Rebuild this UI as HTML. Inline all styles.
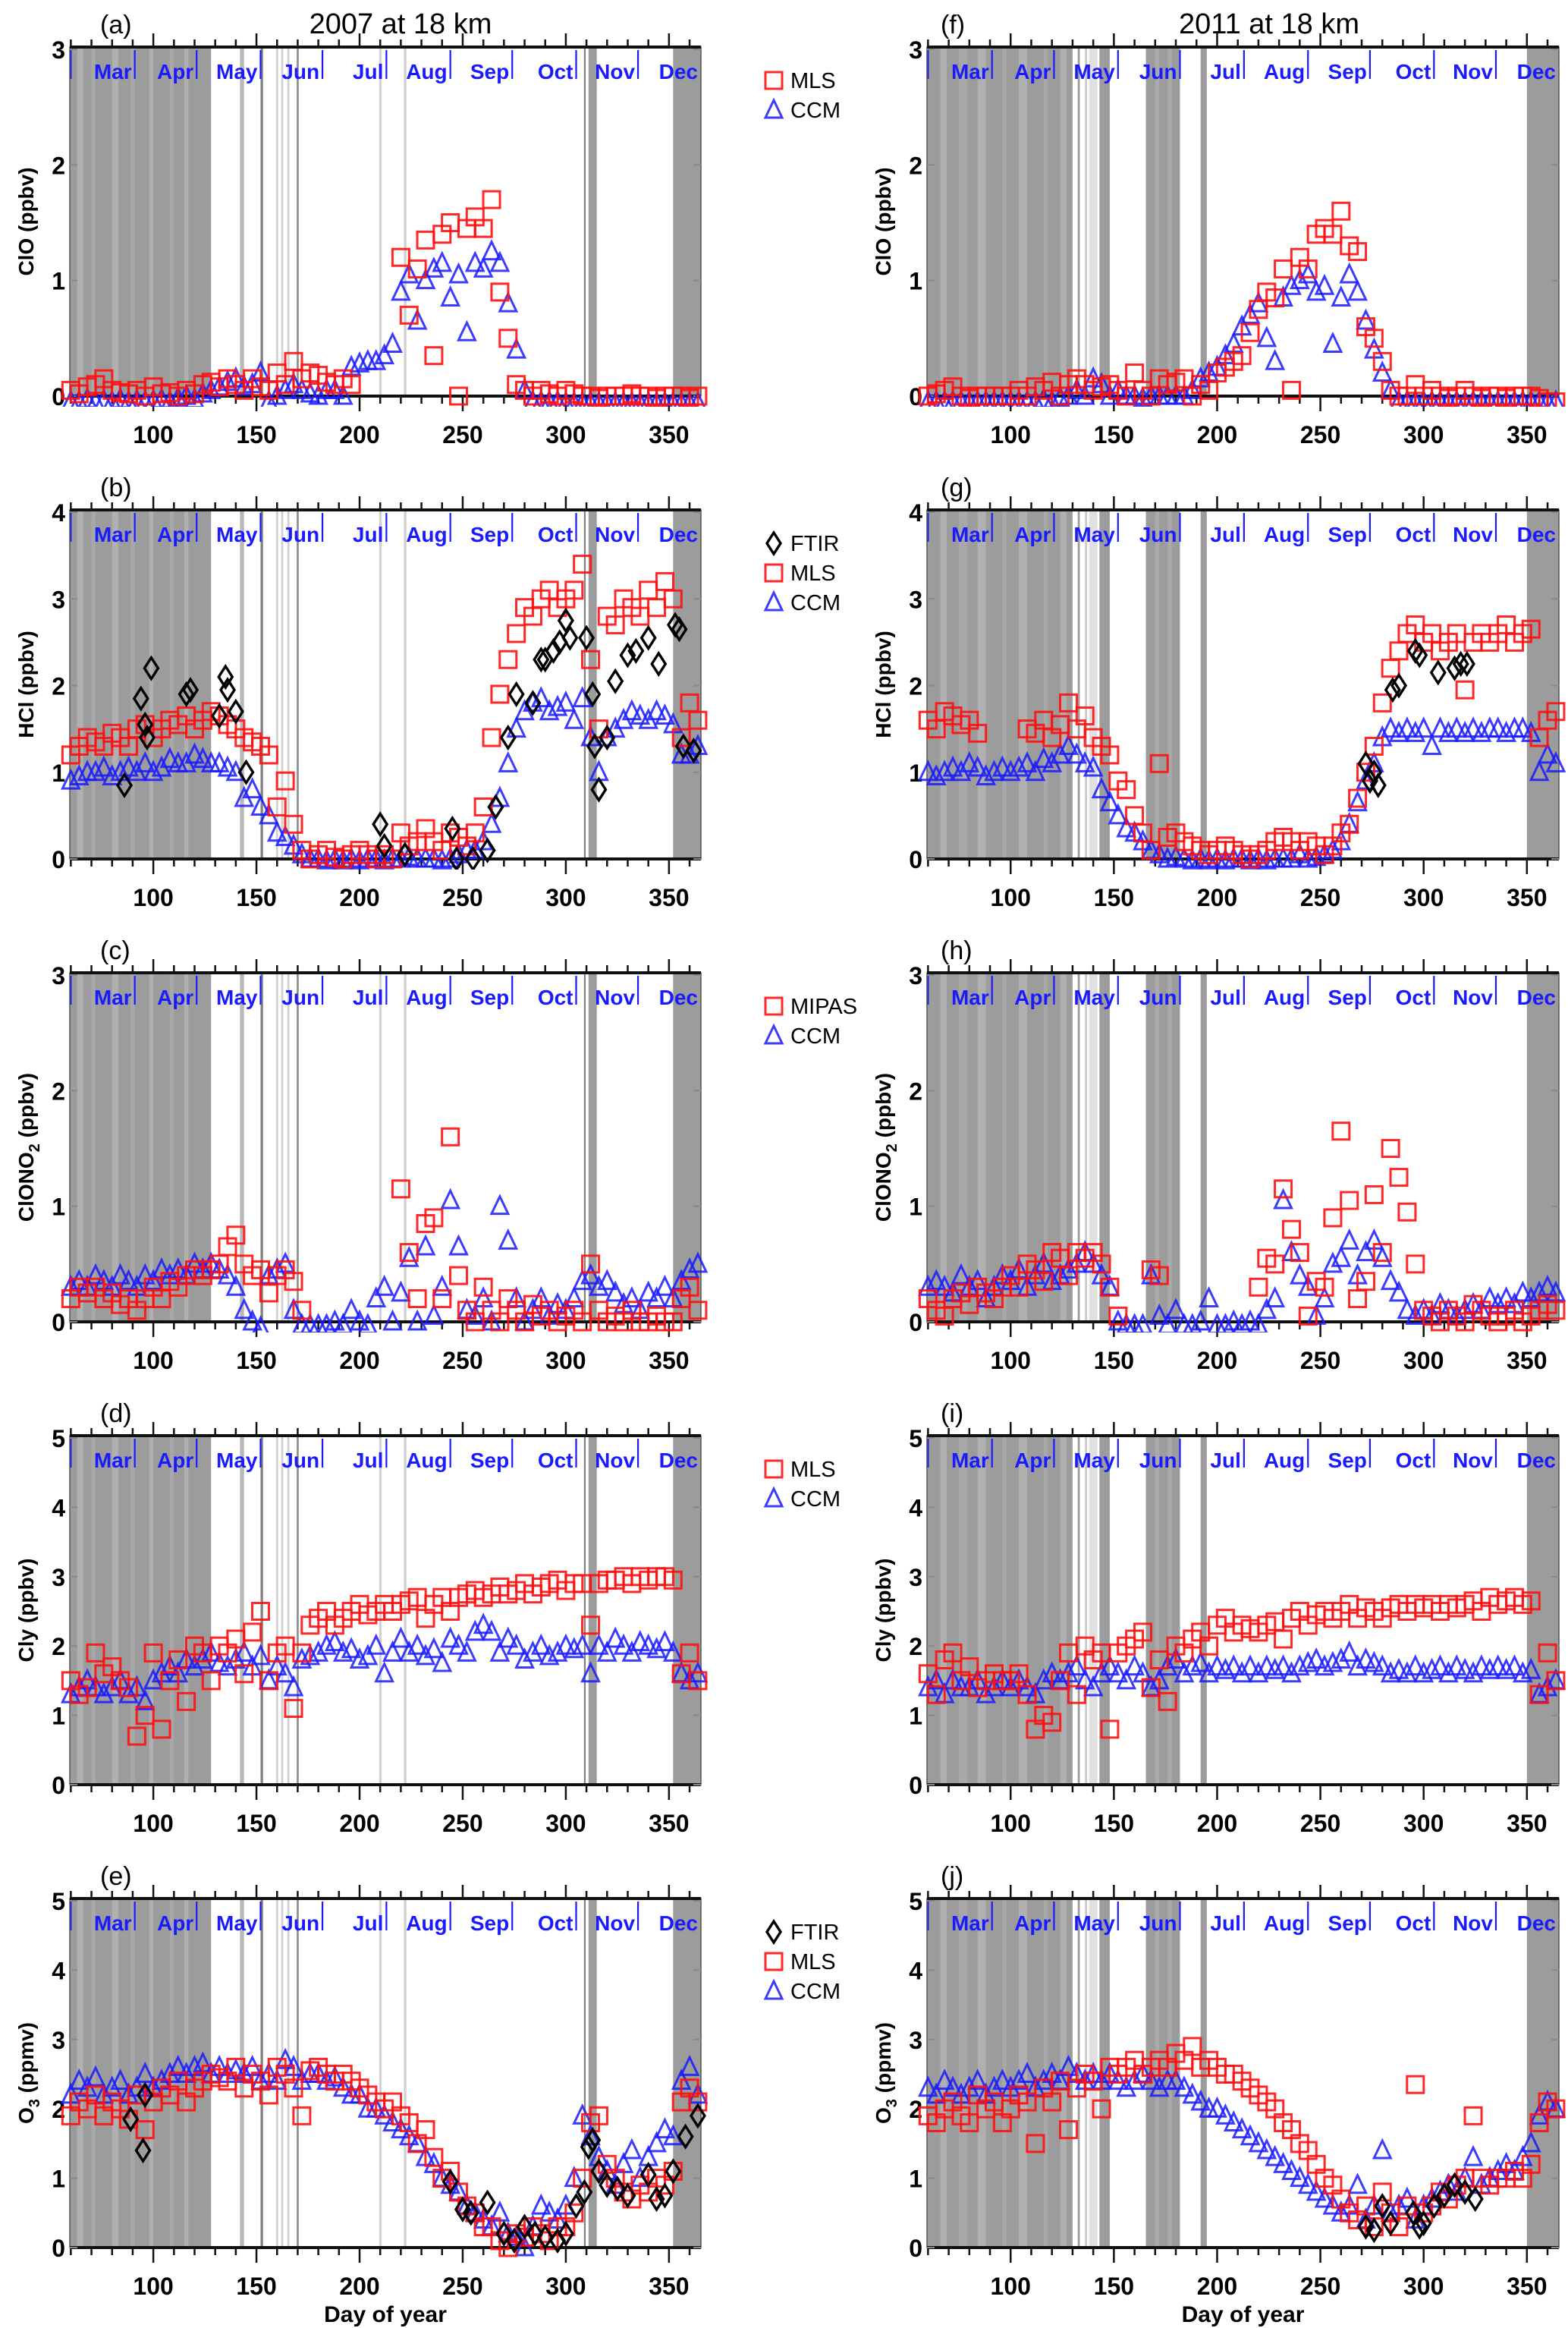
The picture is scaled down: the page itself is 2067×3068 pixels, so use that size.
<!DOCTYPE html>
<html><head><meta charset="utf-8"><title>Chlorine species and ozone at 18 km, 2007 and 2011</title>
<style>
html,body{margin:0;padding:0;background:#fff;}
svg{display:block;font-family:"Liberation Sans",sans-serif;}
</style></head>
<body>
<svg id="fig" width="2067" height="3068" viewBox="0 0 2067 3068" xmlns="http://www.w3.org/2000/svg"></svg>
<script>
// ---- shared sampling days (every 4 days) ----
const days = [60,64,68,72,76,80,84,88,92,96,100,104,108,112,116,120,124,128,132,136,140,144,148,152,156,160,164,168,172,176,180,184,188,192,196,200,204,208,212,216,220,224,228,232,236,240,244,248,252,256,260,264,268,272,276,280,284,288,292,296,300,304,308,312,316,320,324,328,332,336,340,344,348,352,356,360,364];
const N = null;
// (a) 2007 ClO
const a_mls = [0.05,0.02,0.08,0.1,0.15,0.05,0.03,0.02,0.05,0.0, 0.08,0.02,0.03,0.0,0.05,0.02,0.1,0.12,0.08,0.15, 0.1,0.05,0.15,0.08,0.05,0.2,0.1,0.3,0.15,0.2, 0.18,0.12,0.1,0.15,0.1,N,N,N,N,N, 1.2,0.7,1.1,1.35,0.35,1.4,1.5,0.0,1.45,1.55, 1.45,1.7,0.9,0.5,0.1,0.05,0.0,0.05,0.02,0.0, 0.05,0.02,0.0,0.0,-0.02,0.0,0.0,0.0,0.02,0.0, 0.0,-0.02,0.0,0.0,0.0,-0.02,0.0];
const a_ccm = [-0.05,-0.05,-0.03,-0.05,-0.04,-0.05,-0.03,-0.05,-0.04,-0.05, -0.04,-0.03,-0.05,-0.02,0.0,-0.03,0.02,0.05,0.08,0.12, 0.15,0.08,0.1,0.2,-0.05,0.0,0.05,0.1,0.05,0.02, 0.0,0.05,0.05,0.0,0.25,0.28,0.3,0.3,0.35,0.45, 0.9,1.05,0.65,1.0,1.1,1.15,0.85,1.05,0.55,1.15, 1.1,1.25,1.15,0.8,0.4,0.05,-0.05,-0.05,-0.05,-0.05, -0.06,-0.06,-0.06,-0.06,-0.06,-0.06,-0.06,-0.06,-0.06,-0.06, -0.06,-0.06,-0.06,-0.06,-0.06,-0.06,-0.06];
// (b) 2007 HCl
const b_mls = [1.2,1.3,1.4,1.35,1.3,1.45,1.4,1.3,1.5,1.55, 1.4,1.5,1.6,1.55,1.65,1.5,1.6,1.7,1.65,1.55, 1.5,1.4,1.35,1.3,1.2,0.6,0.9,0.4,0.1,0.0, 0.05,0.1,0.02,0.0,0.05,0.1,0.05,0.0,0.05,0.0, 0.3,0.15,0.2,0.35,0.2,0.1,0.3,0.25,0.15,0.3, 0.6,1.4,1.9,2.3,2.6,2.9,2.8,3.0,3.1,2.9, 3.0,3.1,3.4,2.3,1.5,2.8,2.7,3.0,2.9,2.8, 3.1,2.9,3.2,3.0,1.4,1.8,1.6];
const b_ccm = [0.9,0.95,1.0,1.0,1.05,0.95,1.0,1.05,1.0,1.1, 1.0,1.05,1.15,1.1,1.1,1.2,1.15,1.1,1.1,1.05, 1.0,0.7,0.8,0.6,0.5,0.3,0.25,0.15,0.05,0.0, 0.0,-0.02,0.0,-0.02,0.0,-0.02,0.0,0.0,-0.02,0.0, 0.0,0.02,0.0,0.0,0.0,-0.02,0.0,0.05,0.1,0.1, 0.2,0.4,0.7,1.1,1.5,1.7,1.8,1.85,1.7,1.75, 1.8,1.6,1.85,1.4,1.0,1.4,1.5,1.6,1.7,1.65, 1.6,1.7,1.65,1.55,1.2,1.2,1.3];
const b_ftir_days = [86,94,96,97,99,116,118,132,135,136,140,145,210,212,222,245,247,255,262,266,272,276,284,288,290,294,297,300,302,310,313,314,316,320,324,330,334,340,345,353,355,357,362];
const b_ftir = [0.85,1.85,1.55,1.4,2.2,1.9,1.95,1.65,2.1,1.95,1.7,1.0,0.4,0.15,0.05,0.35,0.0,0.0,0.1,0.6,1.4,1.9,1.8,2.3,2.3,2.4,2.5,2.75,2.55,2.55,1.9,1.3,0.8,1.4,2.05,2.35,2.4,2.55,2.25,2.7,2.65,1.3,1.25];
// (c) 2007 ClONO2
const c_mipas = [0.2,0.3,0.25,0.3,0.2,0.25,0.15,0.2,0.1,0.2, 0.3,0.2,0.35,0.3,0.4,0.45,0.4,0.45,0.5,0.65, 0.75,0.5,0.4,0.45,0.25,0.4,0.45,0.35,0.1,N, N,N,N,N,N,N,N,N,N,N, 1.15,0.6,0.2,0.85,0.9,0.2,1.6,0.4,0.1,0.0, 0.3,0.1,0.0,0.2,0.1,0.0,0.15,0.05,0.1,0.0, 0.05,0.1,0.0,0.5,0.1,0.0,0.05,0.0,0.1,0.0, 0.0,0.05,0.0,0.0,0.2,0.3,0.1];
const c_ccm = [0.3,0.35,0.3,0.4,0.35,0.3,0.4,0.35,0.3,0.4, 0.35,0.45,0.4,0.45,0.4,0.5,0.45,0.5,0.45,0.4, 0.3,0.1,0.0,-0.05,0.4,0.45,0.5,0.1,-0.03,-0.03, -0.03,-0.03,0.0,-0.03,0.1,0.0,-0.03,0.2,0.3,0.0, 0.25,0.55,0.0,0.65,0.05,0.3,1.05,0.65,0.1,0.05, 0.2,0.0,1.0,0.7,0.2,0.0,0.1,0.2,0.05,0.15, 0.1,0.2,0.35,0.4,0.3,0.35,0.25,0.15,0.2,0.1, 0.25,0.2,0.3,0.2,0.35,0.45,0.5];
// (d) 2007 Cly
const d_mls = [1.5,1.3,1.4,1.9,1.6,1.7,1.5,1.4,0.7,1.0, 1.9,0.8,1.5,1.8,1.2,2.0,1.9,1.5,2.0,1.9, 2.1,1.6,2.2,2.5,1.5,1.9,2.0,1.1,1.9,2.3, 2.4,2.5,2.3,2.4,2.5,2.6,2.45,2.5,2.6,2.5, 2.6,2.65,2.7,2.4,2.6,2.7,2.5,2.7,2.75,2.8, 2.7,2.75,2.85,2.75,2.8,2.9,2.75,2.85,2.9,2.95, 2.8,2.9,2.9,2.3,2.9,2.95,2.95,3.0,2.9,3.0, 2.95,3.0,3.0,2.95,1.6,1.9,1.5];
const d_ccm = [1.3,1.4,1.5,1.4,1.3,1.4,1.5,1.3,1.4,1.2, 1.5,1.6,1.7,1.6,1.8,1.7,1.8,1.9,1.75,1.7, 1.8,1.9,1.7,1.85,1.5,1.7,1.6,1.4,1.8,1.85, 1.9,2.0,2.05,1.9,1.95,1.8,1.85,2.0,1.6,1.9, 2.1,1.9,2.0,1.85,1.95,1.75,2.1,2.0,1.9,2.2, 2.3,2.2,1.9,2.1,2.0,1.8,1.9,2.0,1.85,1.9, 2.0,1.95,2.0,1.6,2.0,1.9,2.1,2.0,1.9,2.05, 2.0,1.95,2.05,1.9,1.6,1.5,1.6];
// (e) 2007 O3
const e_mls = [1.9,2.1,2.0,2.2,1.9,2.1,2.0,1.85,2.2,1.7, 2.1,2.3,2.2,2.4,2.1,2.3,2.4,2.5,2.45,2.4, 2.6,2.3,2.5,2.4,2.2,2.6,2.5,2.3,1.9,2.55, 2.6,2.5,2.4,2.5,2.4,2.3,2.2,2.1,2.0,2.1, 1.9,1.8,1.5,1.7,1.3,1.0,1.1,0.8,0.6,0.5, 0.3,0.3,0.1,0.0,0.2,0.15,0.3,0.2,0.1,0.3, 0.3,0.5,1.0,1.8,1.9,1.2,1.0,0.8,0.7,0.9, 0.8,1.0,0.9,1.1,2.1,2.3,2.1];
const e_ccm = [2.2,2.4,2.3,2.45,2.2,2.3,2.4,2.2,2.3,2.5, 2.3,2.4,2.5,2.6,2.5,2.6,2.65,2.5,2.6,2.5, 2.55,2.5,2.6,2.4,2.5,2.4,2.7,2.6,2.4,2.5, 2.5,2.4,2.45,2.3,2.2,2.2,2.0,2.0,1.9,1.8, 1.7,1.6,1.5,1.3,1.2,1.0,0.9,0.8,0.6,0.5, 0.4,0.3,0.5,0.2,0.15,0.0,0.3,0.6,0.5,0.4, 0.6,1.0,1.9,1.6,1.3,1.1,0.9,1.2,1.4,1.0, 1.3,1.5,1.7,1.6,2.4,2.6,2.2];
const e_ftir_days = [89,95,96,244,250,254,262,270,275,280,285,290,296,300,305,309,311,313,316,320,325,330,340,344,348,352,358,364];
const e_ftir = [1.85,1.4,2.2,0.95,0.55,0.5,0.65,0.2,0.1,0.3,0.2,0.15,0.1,0.2,0.6,0.8,1.45,1.55,1.1,0.9,0.85,0.75,1.05,0.7,0.75,1.1,1.6,1.9];
// (f) 2011 ClO
const f_mls = [0.0,0.02,0.05,0.08,0.0,-0.02,0.0,0.0,0.0,0.0, 0.0,0.05,0.0,0.08,0.05,0.12,0.0,0.1,0.15,0.1, 0.05,0.08,0.1,0.05,0.0,0.2,0.05,0.0,0.15,0.1, 0.12,0.15,0.0,0.1,0.05,0.2,0.25,0.3,0.35,0.55, 0.75,0.9,0.85,1.1,0.05,1.2,1.1,1.4,1.45,1.4, 1.6,1.3,1.25,0.6,0.5,0.3,0.05,0.0,0.0,0.1, 0.0,0.05,0.0,-0.02,0.0,0.05,0.0,-0.02,0.0,0.0, -0.02,0.0,0.0,0.0,-0.02,-0.05,-0.05];
const f_ccm = [-0.05,-0.05,-0.05,-0.05,-0.05,-0.05,-0.05,-0.05,-0.05,-0.05, -0.05,-0.05,-0.05,-0.05,-0.03,-0.05,-0.02,0.0,0.05,0.0, 0.15,0.1,0.0,0.05,0.0,0.0,-0.02,0.0,0.0,0.0, 0.0,0.0,0.05,0.15,0.2,0.25,0.35,0.45,0.6,0.7, 0.8,0.5,0.3,0.85,0.95,1.0,1.05,0.9,0.95,0.45, 0.85,1.05,0.9,0.65,0.4,0.2,0.05,-0.05,-0.05,-0.05, -0.05,-0.05,-0.05,-0.05,-0.05,-0.05,-0.05,-0.05,-0.05,-0.05, -0.05,-0.05,-0.05,-0.05,-0.05,-0.05,-0.05];
// (g) 2011 HCl
const g_mls = [1.6,1.5,1.7,1.65,1.55,1.6,1.45,N,N,N, N,N,1.5,1.45,1.6,1.4,1.55,1.8,1.5,1.65, 1.4,1.3,1.2,0.9,0.8,0.5,0.3,0.1,1.1,0.25, 0.3,0.2,0.15,0.1,0.05,0.1,0.15,0.1,0.05,0.0, 0.05,0.1,0.2,0.25,0.2,0.1,0.2,0.15,0.05,0.15, 0.3,0.4,0.7,1.0,1.3,1.8,2.2,2.4,2.6,2.7, 2.5,2.6,2.4,2.5,2.6,1.95,2.5,2.6,2.5,2.6, 2.7,2.5,2.6,2.65,1.4,1.6,1.7];
const g_ccm = [1.0,0.95,1.0,1.05,1.0,1.1,1.05,0.95,1.0,1.05, 1.0,1.05,1.1,1.0,1.15,1.1,1.2,1.3,1.2,1.1, 1.05,0.8,0.65,0.5,0.35,0.3,0.2,0.1,0.05,0.0, 0.02,0.0,-0.02,0.0,-0.02,0.0,-0.02,0.0,0.0,-0.02, 0.0,-0.02,0.0,0.0,0.0,0.05,0.0,0.02,0.05,0.1, 0.2,0.4,0.65,0.9,1.1,1.4,1.5,1.45,1.5,1.45, 1.5,1.3,1.5,1.45,1.5,1.45,1.5,1.45,1.5,1.5, 1.45,1.5,1.5,1.45,1.0,1.2,1.1];
const g_ftir_days = [272,274,276,278,285,288,296,298,307,315,318,321];
const g_ftir = [1.1,0.9,1.0,0.85,1.95,2.0,2.4,2.35,2.15,2.2,2.25,2.25];
// (h) 2011 ClONO2
const h_mipas = [0.2,0.1,0.05,0.2,0.25,0.15,0.3,0.25,0.2,0.3, 0.4,0.3,0.5,0.45,0.35,0.6,0.55,0.4,0.6,0.55, 0.6,0.5,0.3,0.05,N,N,N,0.45,0.4,N, N,N,N,N,N,N,N,N,N,N, 0.3,0.55,0.5,1.15,0.8,0.6,0.05,0.35,0.3,0.9, 1.65,1.05,0.2,0.35,1.1,0.6,1.5,1.25,0.95,0.5, 0.1,0.05,0.0,0.1,0.05,0.0,0.15,0.1,0.05,0.0, 0.05,0.1,0.0,0.05,0.1,0.15,0.1];
const h_ccm = [0.3,0.35,0.3,0.25,0.4,0.3,0.35,0.2,0.3,0.4, 0.35,0.45,0.3,0.4,0.5,0.35,0.4,0.45,0.5,0.6, 0.5,0.4,0.3,0.0,-0.03,-0.03,-0.03,0.4,0.05,-0.03, 0.1,-0.03,-0.03,0.0,0.2,-0.03,-0.03,0.0,-0.03,0.0, -0.03,0.1,0.2,1.05,0.6,0.4,0.3,0.05,0.2,0.5, 0.55,0.7,0.4,0.6,0.7,0.55,0.35,0.25,0.1,0.05, 0.1,0.05,0.15,0.1,0.05,0.1,0.15,0.1,0.2,0.15, 0.2,0.15,0.25,0.2,0.25,0.3,0.25];
// (i) 2011 Cly
const i_mls = [1.6,1.3,1.8,1.9,1.5,1.7,1.4,1.5,1.6,1.5, 1.5,1.6,1.3,0.8,1.0,0.9,1.5,1.9,1.3,2.0, 1.8,1.9,0.8,1.9,2.0,2.1,2.2,1.4,1.8,1.2, 2.0,1.9,2.1,2.2,2.0,2.3,2.4,2.2,2.3,2.25, 2.2,2.3,2.35,2.1,2.4,2.5,2.3,2.45,2.5,2.4, 2.5,2.6,2.4,2.55,2.5,2.4,2.55,2.6,2.5,2.6, 2.55,2.6,2.5,2.6,2.55,2.6,2.65,2.5,2.7,2.6, 2.65,2.7,2.6,2.65,1.3,1.9,1.5];
const i_ccm = [1.4,1.5,1.3,1.5,1.4,1.4,1.5,1.3,1.4,1.5, 1.4,1.5,1.4,1.3,1.5,1.6,1.5,1.6,1.7,1.5, 1.4,1.6,1.7,1.6,1.5,1.7,1.6,1.4,1.5,1.7, 1.8,1.6,1.7,1.75,1.6,1.7,1.65,1.7,1.6,1.7, 1.6,1.7,1.65,1.7,1.6,1.7,1.75,1.8,1.7,1.75, 1.8,1.9,1.7,1.8,1.75,1.7,1.6,1.65,1.6,1.7, 1.6,1.65,1.7,1.6,1.7,1.65,1.6,1.7,1.65,1.7, 1.65,1.7,1.6,1.65,1.3,1.4,1.5];
// (j) 2011 O3
const j_mls = [1.9,1.8,2.0,2.1,1.9,1.8,2.2,2.0,2.1,1.8, 2.0,2.2,2.1,1.5,2.3,2.1,2.4,1.7,2.3,2.5, 2.4,2.0,2.6,2.5,2.6,2.7,2.5,2.6,2.7,2.6, 2.8,2.7,2.9,2.6,2.7,2.6,2.5,2.5,2.4,2.3, 2.2,2.1,2.0,1.8,1.7,1.5,1.4,1.2,1.0,0.9, 0.7,0.5,0.4,0.6,0.3,0.8,0.5,0.3,0.6,2.35, 0.5,0.6,0.8,0.7,0.9,1.0,1.9,1.0,0.9,1.0, 1.0,1.1,1.0,1.2,1.8,2.1,2.0];
const j_ccm = [2.3,2.2,2.4,2.3,2.2,2.3,2.4,2.2,2.3,2.4, 2.3,2.4,2.5,2.3,2.4,2.5,2.4,2.6,2.5,2.4, 2.5,2.4,2.5,2.4,2.3,2.4,2.5,2.4,2.3,2.4, 2.4,2.3,2.2,2.1,2.0,2.0,1.9,1.8,1.7,1.6, 1.5,1.4,1.3,1.2,1.1,1.0,0.9,0.8,0.7,0.6, 0.5,0.6,0.9,0.4,0.6,1.4,0.5,0.6,0.7,0.4, 0.6,0.7,0.8,0.9,0.8,1.0,1.3,0.9,1.0,1.1, 1.2,1.1,1.3,1.5,1.9,2.1,2.0];
const j_ftir_days = [272,276,280,284,295,298,300,305,310,315,320,325];
const j_ftir = [0.3,0.25,0.6,0.35,0.5,0.3,0.35,0.6,0.75,0.9,0.8,0.7];

const monthNames = ["Mar","Apr","May","Jun","Jul","Aug","Sep","Oct","Nov","Dec"];
const monthStarts = [60,91,121,152,182,213,244,274,305,335];
const xTicks = [100,150,200,250,300,350];

// ---------------- drawing ----------------
const NS = "http://www.w3.org/2000/svg";
const svg = document.getElementById("fig");
function el(tag, attrs, parent){
  const e = document.createElementNS(NS, tag);
  for (const k in attrs) e.setAttribute(k, attrs[k]);
  (parent||svg).appendChild(e);
  return e;
}
const COLS = [{x0:92,x1:924},{x0:1222,x1:2055}];
const TOPS = [62,672,1282,1892,2502];
const H = 460;
const D0 = 59.5, D1 = 365.5;

const shadeLeft = [[59.5,128,"#9c9c9c"],[63,66,"#b0b0b0"],[70,72,"#a8a8a8"],[80,83,"#b0b0b0"],[89,91,"#a8a8a8"],[98,100,"#b0b0b0"],[108,110,"#a8a8a8"],[115,117,"#b0b0b0"],
  [142,144,"#b8b8b8"],[152,153.2,"#808080"],[159.5,160.5,"#d0d0d0"],[162,163,"#d0d0d0"],[165,166,"#d0d0d0"],[169.5,170.5,"#909090"],[209.5,210.7,"#d0d0d0"],[221.5,222.7,"#d0d0d0"],
  [308.8,309.6,"#808080"],[311,315,"#9c9c9c"],[352,365.5,"#9c9c9c"]];
const shadeRight = [[59.5,130,"#9c9c9c"],[66,69,"#b0b0b0"],[75,79,"#a8a8a8"],[84,88,"#b0b0b0"],[96,98,"#a8a8a8"],[104,108,"#b0b0b0"],[116,118,"#a8a8a8"],[124,127,"#b0b0b0"],
  [132.5,133.5,"#9c9c9c"],[136,137,"#c8c8c8"],[138,142,"#e0e0e0"],[143,148,"#9c9c9c"],[165.5,182,"#9c9c9c"],[170,172,"#aaaaaa"],[176,178,"#aaaaaa"],[192,195,"#9c9c9c"],[350,365.5,"#9c9c9c"]];

const panels = [
  {id:"a",col:0,row:0,ymax:3,ylab:"ClO (ppbv)",series:[["ccm",days,a_ccm],["mls",days,a_mls]],legend:[["mls","MLS"],["ccm","CCM"]]},
  {id:"b",col:0,row:1,ymax:4,ylab:"HCl (ppbv)",series:[["ccm",days,b_ccm],["mls",days,b_mls],["ftir",b_ftir_days,b_ftir]],legend:[["ftir","FTIR"],["mls","MLS"],["ccm","CCM"]]},
  {id:"c",col:0,row:2,ymax:3,ylab:"ClONO2",series:[["ccm",days,c_ccm],["mls",days,c_mipas]],legend:[["mls","MIPAS"],["ccm","CCM"]]},
  {id:"d",col:0,row:3,ymax:5,ylab:"Cly (ppbv)",series:[["ccm",days,d_ccm],["mls",days,d_mls]],legend:[["mls","MLS"],["ccm","CCM"]]},
  {id:"e",col:0,row:4,ymax:5,ylab:"O3",series:[["ccm",days,e_ccm],["mls",days,e_mls],["ftir",e_ftir_days,e_ftir]],legend:[["ftir","FTIR"],["mls","MLS"],["ccm","CCM"]]},
  {id:"f",col:1,row:0,ymax:3,ylab:"ClO (ppbv)",series:[["ccm",days,f_ccm],["mls",days,f_mls]],legend:[]},
  {id:"g",col:1,row:1,ymax:4,ylab:"HCl (ppbv)",series:[["ccm",days,g_ccm],["mls",days,g_mls],["ftir",g_ftir_days,g_ftir]],legend:[]},
  {id:"h",col:1,row:2,ymax:3,ylab:"ClONO2",series:[["ccm",days,h_ccm],["mls",days,h_mipas]],legend:[]},
  {id:"i",col:1,row:3,ymax:5,ylab:"Cly (ppbv)",series:[["ccm",days,i_ccm],["mls",days,i_mls]],legend:[]},
  {id:"j",col:1,row:4,ymax:5,ylab:"O3",series:[["ccm",days,j_ccm],["mls",days,j_mls],["ftir",j_ftir_days,j_ftir]],legend:[]}
];

function marker(kind, cx, cy, g, legend){
  let m;
  if (kind==="mls"){
    m = el("rect",{x:cx-11,y:cy-11,width:22,height:22,fill:"none",stroke:"#ff1010","stroke-width":3,"stroke-opacity":0.9},g);
  } else if (kind==="ccm"){
    m = el("path",{d:`M${cx-11},${cy+10} L${cx},${cy-13} L${cx+11},${cy+10} Z`,fill:"none",stroke:"#1a1aff","stroke-width":3,"stroke-opacity":0.85},g);
  } else {
    m = el("path",{d:`M${cx},${cy-14} L${cx+9},${cy} L${cx},${cy+14} L${cx-9},${cy} Z`,fill:"none",stroke:"#000","stroke-width":3.4},g);
  }
  
  
  return m;
}

panels.forEach(p=>{
  const c = COLS[p.col], top = TOPS[p.row], bot = top + H;
  const xs = d => c.x0 + (d - D0)/(D1 - D0)*(c.x1 - c.x0);
  const ys = v => bot - v/p.ymax*(H-3);
  const g = el("g",{});
  
  
  el("rect",{x:c.x0,y:top,width:c.x1-c.x0,height:H,fill:"#fff"},g);
  const sh = p.col===0 ? shadeLeft : shadeRight;
  const sg = el("g",{},g);
  
  
  sh.forEach(s=>{ el("rect",{x:xs(s[0]),y:top,width:Math.max(1.5,xs(s[1])-xs(s[0])),height:H,fill:s[2]},sg); });
  monthStarts.forEach((m,k)=>{
    const mt = el("line",{x1:xs(m),x2:xs(m),y1:top+4,y2:top+42,stroke:"#1a1aff","stroke-width":2.2},g);
    
    
    const nx = k<9 ? xs(monthStarts[k+1])-4 : c.x1-4;
    const t = el("text",{x:nx,y:top+42,"text-anchor":"end","font-size":28,"font-weight":"600",fill:"#1a1aff"},g);
    t.textContent = monthNames[k];
    
    
  });
  el("rect",{x:c.x0,y:top,width:c.x1-c.x0,height:H,fill:"none",stroke:"#555","stroke-width":1.5},g);
  el("line",{x1:c.x0,x2:c.x1,y1:top,y2:top,stroke:"#111","stroke-width":4},g);
  el("line",{x1:c.x0,x2:c.x1,y1:bot,y2:bot,stroke:"#111","stroke-width":4},g);
  for (let d=60; d<=365; d+=10){
    const major = d%50===0;
    el("line",{x1:xs(d),x2:xs(d),y1:top,y2:top-(major?18:10),stroke:"#111","stroke-width":2.5},g);
    el("line",{x1:xs(d),x2:xs(d),y1:bot,y2:bot+(major?20:10),stroke:"#111","stroke-width":2.5},g);
  }
  xTicks.forEach(d=>{
    const t = el("text",{x:xs(d),y:bot+62,"text-anchor":"middle","font-size":32,"font-weight":"bold",fill:"#000"},g);
    t.textContent = d;
    
    
  });
  for (let v=0; v<=p.ymax; v++){
    el("line",{x1:c.x0,x2:c.x0+10,y1:ys(v),y2:ys(v),stroke:"#888","stroke-width":2},g);
    el("line",{x1:c.x1-10,x2:c.x1,y1:ys(v),y2:ys(v),stroke:"#888","stroke-width":2},g);
    const t = el("text",{x:c.x0-6,y:ys(v)+12,"text-anchor":"end","font-size":32,"font-weight":"bold",fill:"#000"},g);
    t.textContent = v;
    
    
  }
  const yl = el("text",{transform:`translate(${c.x0-48},${top+H/2}) rotate(-90)`,"text-anchor":"middle","font-size":28,"font-weight":"bold",fill:"#000"},g);
  
  
  if (p.ylab==="ClONO2"){
    yl.innerHTML = 'ClONO<tspan font-size="20" dy="8">2</tspan><tspan dy="-8"> (ppbv)</tspan>';
  } else if (p.ylab==="O3"){
    yl.innerHTML = 'O<tspan font-size="20" dy="8">3</tspan><tspan dy="-8"> (ppmv)</tspan>';
  } else yl.textContent = p.ylab;
  const clip = "clip-"+p.id;
  const cp = el("clipPath",{id:clip},g);
  el("rect",{x:c.x0-12,y:top,width:c.x1-c.x0+24,height:H+14},cp);
  const dg = el("g",{"clip-path":`url(#${clip})`},g);
  p.series.forEach(s=>{
    const sg2 = el("g",{},dg);
    
    
    s[2].forEach((v,k)=>{ if (v===null) return; marker(s[0], xs(s[1][k]), ys(v), sg2, false); });
  });
  p.legend.forEach((L,k)=>{
    const lx = c.x1 + 96, ly = top + 54 + k*39;
    marker(L[0], lx, ly-10, g, true);
    const t = el("text",{x:lx+22,y:ly,"font-size":29,fill:"#000"},g);
    t.textContent = L[1];
    
    
  });
  const lt = el("text",{x:c.x0+(p.col===0?40:18),y:top-18,"font-size":34,fill:"#000"},g);
  lt.textContent = "("+p.id+")";
  
  
});
[["2007 at 18 km",528],["2011 at 18 km",1673]].forEach(T=>{
  const t = el("text",{x:T[1],y:44,"text-anchor":"middle","font-size":38,fill:"#000"});
  t.textContent = T[0];
  
  
});
COLS.forEach(c=>{
  const t = el("text",{x:(c.x0+c.x1)/2,y:3060,"text-anchor":"middle","font-size":30,"font-weight":"bold",fill:"#000"});
  t.textContent = "Day of year";
  
  
});
</script>
</body></html>
